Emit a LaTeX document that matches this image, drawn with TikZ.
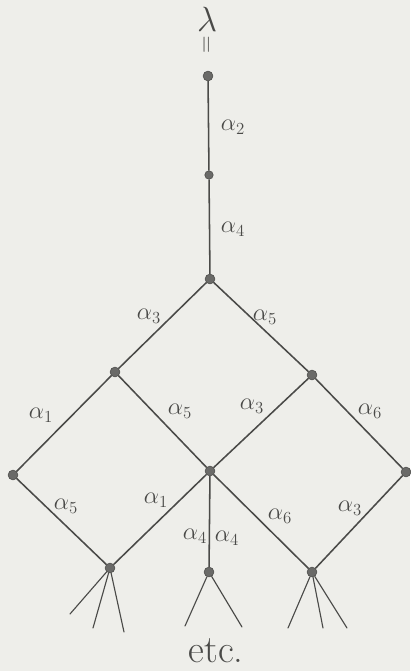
\documentclass[tikz,border=0pt]{standalone}
\usepackage{xcolor}
\usepackage{tikz}
\definecolor{paper}{HTML}{EEEEEA}
\definecolor{pencil}{HTML}{4A4A48}
\definecolor{dotgrey}{HTML}{6A6A68}

\begin{document}
\begin{tikzpicture}[x=0.025cm, y=-0.025cm,
  vtx/.style={circle, fill=dotgrey, draw=pencil, line width=0.4pt, inner sep=0pt, minimum size=7pt},
  edge/.style={draw=pencil, line width=1.1pt},
  twig/.style={draw=pencil, line width=0.8pt, line cap=round},
  lbl/.style={text=pencil, font=\LARGE}
]
  \fill[paper] (0,0) rectangle (410,671);
  \useasboundingbox (0,0) rectangle (410,671);

  % vertices
  \node[vtx] (top)  at (208,76) {};
  \node[vtx, minimum size=6pt] (mid) at (209,175) {};
  \node[vtx] (fork) at (210,279) {};
  \node[vtx] (l1)   at (115,372) {};
  \node[vtx] (r1)   at (312,375) {};
  \node[vtx] (ll)   at (13,475) {};
  \node[vtx] (cc)   at (210,471) {};
  \node[vtx] (rr)   at (406,472) {};
  \node[vtx] (bl)   at (110,568) {};
  \node[vtx] (bc)   at (209,572) {};
  \node[vtx] (br)   at (312,572) {};

  % lambda on top
  \node[text=pencil, font=\Huge] (lam) at (207,19) {$\lambda$};
  \node[text=pencil, rotate=90, font=\LARGE] (eqs) at (208,45) {$=$};

  % edges
  \draw[edge] (top) -- (mid);
  \draw[edge] (mid) -- (fork);
  \draw[edge] (fork) -- (l1);
  \draw[edge] (fork) -- (r1);
  \draw[edge] (l1) -- (ll);
  \draw[edge] (l1) -- (cc);
  \draw[edge] (r1) -- (cc);
  \draw[edge] (r1) -- (rr);
  \draw[edge] (ll) -- (bl);
  \draw[edge] (cc) -- (bl);
  \draw[edge] (cc) -- (bc);
  \draw[edge] (cc) -- (br);
  \draw[edge] (rr) -- (br);

  % labels
  \node[lbl] at (233,127) {$\alpha_2$};
  \node[lbl] at (233,229) {$\alpha_4$};
  \node[lbl] at (149,316) {$\alpha_3$};
  \node[lbl] at (265,317) {$\alpha_5$};
  \node[lbl] at (41,415) {$\alpha_1$};
  \node[lbl] at (180,411) {$\alpha_5$};
  \node[lbl] at (252,406) {$\alpha_3$};
  \node[lbl] at (370,411) {$\alpha_6$};
  \node[lbl] at (66,506) {$\alpha_5$};
  \node[lbl] at (156,500) {$\alpha_1$};
  \node[lbl] at (195,536) {$\alpha_4$};
  \node[lbl] at (227,538) {$\alpha_4$};
  \node[lbl] at (280,516) {$\alpha_6$};
  \node[lbl] at (350,508) {$\alpha_3$};

  % open branches below
  \coordinate (bl1) at (70,614);
  \coordinate (bl2) at (93,628);
  \coordinate (bl3) at (124,632);
  \coordinate (bc1) at (185,626);
  \coordinate (bc2) at (242,627);
  \coordinate (br1) at (288,628);
  \coordinate (br2) at (323,628);
  \coordinate (br3) at (347,628);
  \foreach \e in {bl1,bl2,bl3} \draw[twig] (bl) -- (\e);
  \foreach \e in {bc1,bc2} \draw[twig] (bc) -- (\e);
  \foreach \e in {br1,br2,br3} \draw[twig] (br) -- (\e);

  \node[text=pencil, font=\LARGE, scale=1.6] (etc) at (216,651) {etc.};
\end{tikzpicture}
\end{document}
